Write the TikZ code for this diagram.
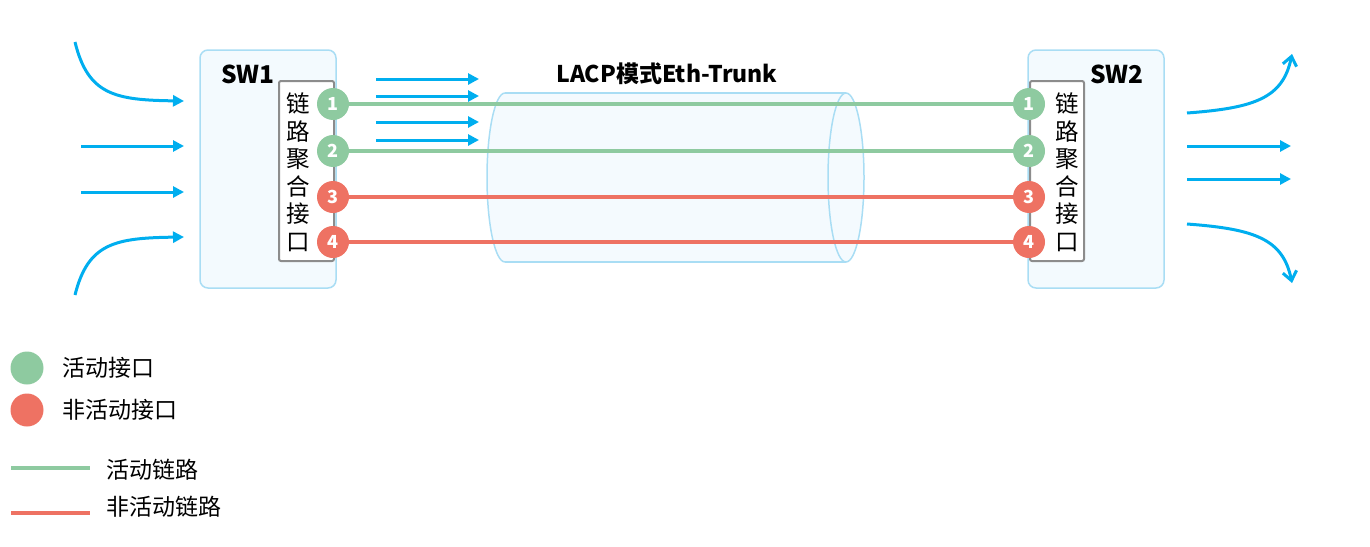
\documentclass[tikz,border=0pt]{standalone}
\usepackage{fontspec}
\setmainfont{Noto Sans CJK SC}
\usetikzlibrary{arrows.meta}
\definecolor{flow}{HTML}{00AEEF}
\definecolor{boxfill}{HTML}{F3FAFE}
\definecolor{boxline}{HTML}{A9DDF4}
\definecolor{actg}{HTML}{8ECAA0}
\definecolor{inactr}{HTML}{EE7263}
\definecolor{innerline}{HTML}{8C8C8C}
\tikzset{
  swbox/.style={draw=boxline,fill=boxfill,line width=1.5pt,rounded corners=8pt},
  lagbox/.style={draw=innerline,fill=white,line width=2pt,rounded corners=2pt},
  port/.style={circle,minimum size=32pt,inner sep=0pt,text=white,font=\fontsize{18}{18}\selectfont\bfseries},
  actport/.style={port,fill=actg},
  inport/.style={port,fill=inactr},
  actlink/.style={draw=actg,line width=3.5pt},
  inlink/.style={draw=inactr,line width=3.5pt},
  flowarrow/.style={draw=flow,line width=3pt,-{Triangle[length=11pt,width=11pt]}},
  flowcurve/.style={draw=flow,line width=3pt,-{Straight Barb[length=9pt,width=14pt,line width=3pt]}},
  vlabel/.style={align=center,font=\fontsize{23.5}{27.5}\selectfont,inner sep=0pt},
  title/.style={font=\fontsize{23}{23}\selectfont\bfseries,inner sep=0pt},
  legtext/.style={anchor=west,font=\fontsize{23}{23}\selectfont,inner sep=0pt},
}
\begin{document}
\begin{tikzpicture}[x=1pt,y=-1pt]
\useasboundingbox (0,0) rectangle (1370,546);
% switch boxes
\node[swbox,minimum width=136pt,minimum height=238pt,inner sep=0pt] (sw1) at (268,169) {};
\node[swbox,minimum width=136pt,minimum height=238pt,inner sep=0pt] (sw2) at (1096,169) {};
\node[title,font=\fontsize{24.5}{24.5}\selectfont\bfseries] (sw1t) at (248,74) {SW1};
\node[title,font=\fontsize{24.5}{24.5}\selectfont\bfseries] (sw2t) at (1117,74) {SW2};
% cylinder
\coordinate (cl) at (505,177.5);
\coordinate (cr) at (846,177.5);
\path[fill=boxfill,fill opacity=0.9] (505,93) -- (846,93) arc[start angle=-90,end angle=90,x radius=18,y radius=84.5] -- (505,262) arc[start angle=90,end angle=270,x radius=18,y radius=84.5] -- cycle;
\draw[boxline,line width=1.5pt] (505,93) -- (846,93);
\draw[boxline,line width=1.5pt] (505,262) -- (846,262);
\draw[boxline,line width=1.5pt] (505,262) arc[start angle=90,end angle=270,x radius=18,y radius=84.5];
\draw[boxline,line width=1.5pt] (cr) ellipse[x radius=18,y radius=84.5];
\node[title] (trunk) at (667,74) {LACP模式Eth-Trunk};
% LAG boxes
\node[lagbox,minimum width=55pt,minimum height=180pt,inner sep=0pt] (lag1) at (306.5,171) {};
\node[lagbox,minimum width=54pt,minimum height=180pt,inner sep=0pt] (lag2) at (1057,171) {};
\node[vlabel] (lag1t) at (298,172) {链\\路\\聚\\合\\接\\口};
\node[vlabel] (lag2t) at (1067,172) {链\\路\\聚\\合\\接\\口};
% links
\coordinate (a1) at (333,104); \coordinate (b1) at (1029,104);
\coordinate (a2) at (333,151); \coordinate (b2) at (1029,151);
\coordinate (a3) at (333,197); \coordinate (b3) at (1029,197);
\coordinate (a4) at (333,242); \coordinate (b4) at (1029,242);
\draw[actlink] (a1) -- (b1);
\draw[actlink] (a2) -- (b2);
\draw[inlink] (a3) -- (b3);
\draw[inlink] (a4) -- (b4);
\node[actport] (p1a) at (a1) {1};
\node[actport] (p2a) at (a2) {2};
\node[inport] (p3a) at (a3) {3};
\node[inport] (p4a) at (a4) {4};
\node[actport] (p1b) at (b1) {1};
\node[actport] (p2b) at (b2) {2};
\node[inport] (p3b) at (b3) {3};
\node[inport] (p4b) at (b4) {4};
% middle flow arrows
\foreach \y [count=\i] in {79,96,122,140}{
  \coordinate (m\i s) at (376,\y);
  \coordinate (m\i e) at (479,\y);
  \draw[flowarrow] (m\i s) -- (m\i e);
}
% left incoming arrows
\coordinate (l1s) at (75,42);  \coordinate (l1e) at (184,101);
\coordinate (l2s) at (81,146); \coordinate (l2e) at (184,146);
\coordinate (l3s) at (81,192); \coordinate (l3e) at (184,192);
\coordinate (l4s) at (75,295); \coordinate (l4e) at (184,237);
\draw[flowarrow] (l1s) .. controls (88,95) and (115,100) .. (l1e);
\draw[flowarrow] (l2s) -- (l2e);
\draw[flowarrow] (l3s) -- (l3e);
\draw[flowarrow] (l4s) .. controls (88,243) and (115,238) .. (l4e);
% right outgoing arrows
\coordinate (r1s) at (1187,113); \coordinate (r1e) at (1292,54);
\coordinate (r2s) at (1187,146); \coordinate (r2e) at (1291,146);
\coordinate (r3s) at (1187,179); \coordinate (r3e) at (1291,179);
\coordinate (r4s) at (1187,224); \coordinate (r4e) at (1292,283);
\draw[flowcurve] (r1s) .. controls (1255,108) and (1283,98) .. (r1e);
\draw[flowarrow] (r2s) -- (r2e);
\draw[flowarrow] (r3s) -- (r3e);
\draw[flowcurve] (r4s) .. controls (1255,229) and (1283,239) .. (r4e);
% legend
\node[circle,fill=actg,minimum size=33pt,inner sep=0pt] (lg1) at (27,368) {};
\node[circle,fill=inactr,minimum size=33pt,inner sep=0pt] (lg2) at (27,410) {};
\node[legtext] (lg1t) at (62,368) {活动接口};
\node[legtext] (lg2t) at (62,410) {非活动接口};
\coordinate (lg3s) at (11,468); \coordinate (lg3e) at (90,468);
\coordinate (lg4s) at (11,513); \coordinate (lg4e) at (90,513);
\draw[draw=actg,line width=3.5pt] (lg3s) -- (lg3e);
\draw[draw=inactr,line width=4.5pt] (lg4s) -- (lg4e);
\node[legtext] (lg3t) at (106,470) {活动链路};
\node[legtext] (lg4t) at (106,507) {非活动链路};
\end{tikzpicture}
\end{document}
